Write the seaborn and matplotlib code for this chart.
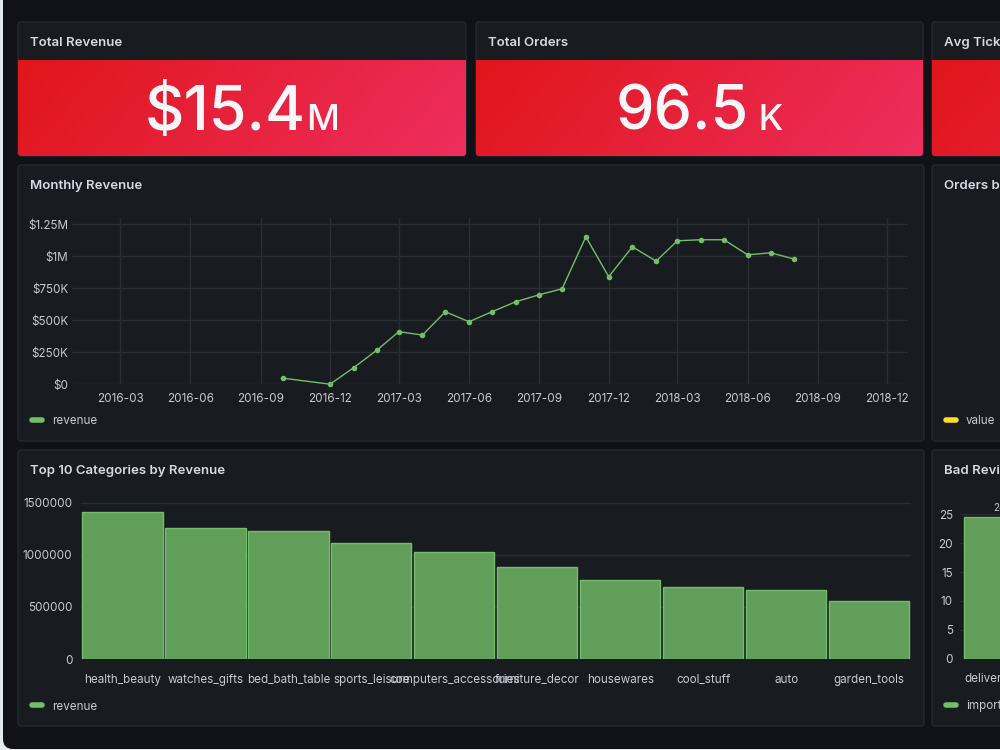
import numpy as np
import pandas as pd
import seaborn as sns
import matplotlib.pyplot as plt
import matplotlib.dates as mdates
from matplotlib.patches import FancyBboxPatch
from matplotlib.colors import LinearSegmentedColormap
from matplotlib.lines import Line2D

# --- data ---
revenue_value, revenue_unit = '$15.4', 'M'
orders_value, orders_unit = '96.5', ' K'

months = ['2016-10-01', '2016-12-01', '2017-01-01', '2017-02-01', '2017-03-01',
          '2017-04-01', '2017-05-01', '2017-06-01', '2017-07-01', '2017-08-01',
          '2017-09-01', '2017-10-01', '2017-11-01', '2017-12-01', '2018-01-01',
          '2018-02-01', '2018-03-01', '2018-04-01', '2018-05-01', '2018-06-01',
          '2018-07-01', '2018-08-01']
monthly_revenue = [47000, 1000, 130000, 270000, 411000, 385000, 567000, 489000,
                   567000, 645000, 700000, 747000, 1153000, 841000, 1075000,
                   963000, 1122000, 1130000, 1130000, 1012000, 1028000, 979000]
rev_ticks = [0, 250000, 500000, 750000, 1000000, 1250000]
rev_tick_labels = ['$0', '$250K', '$500K', '$750K', '$1M', '$1.25M']

categories = ['health_beauty', 'watches_gifts', 'bed_bath_table', 'sports_leisure',
              'computers_accessories', 'furniture_decor', 'housewares',
              'cool_stuff', 'auto', 'garden_tools']
category_revenue = [1406000, 1256000, 1224000, 1115000, 1029000,
                    879000, 757000, 687000, 664000, 559000]
cat_ticks = [0, 500000, 1000000, 1500000]

bad_review_reasons = ['delivery_delay']
bad_review_counts = [24.5]
bad_ticks = [0, 5, 10, 15, 20, 25]

# --- colours ---
PAGE = '#111217'
PANEL = '#181b1f'
BORDER = '#262930'
GRID = '#2a2d34'
TITLE = '#d8d9e3'
TICK = '#c8c9d2'
GREEN = '#73bf69'
BAR = '#619e5a'
YELLOW = '#fade2a'

sns.set_style('dark')
plt.rcParams['font.family'] = ['Inter', 'DejaVu Sans']

W, H = 1000, 750
fig = plt.figure(figsize=(10, 7.5), dpi=100, facecolor='#e4e9ef')
bg = fig.add_axes([0, 0, 1, 1])
bg.axis('off')
bg.add_patch(FancyBboxPatch((3, -20), 1100, 769, boxstyle='round,pad=0,rounding_size=10',
                            fc=PAGE, ec='none', zorder=0))


def panel(x0, y0, x1, y1, title):
    p = FancyBboxPatch((x0, y0), x1 - x0, y1 - y0, boxstyle='round,pad=0,rounding_size=3',
                       fc=PANEL, ec=BORDER, lw=1, zorder=1)
    bg.add_patch(p)
    bg.text(x0 + 12, y0 + 19.5, title, fontsize=9.5, fontweight='semibold', color=TITLE,
            va='center_baseline', ha='left', zorder=5)
    return p


def legend_key(x, y, label, color):
    bg.add_line(Line2D([x, x + 10], [y, y], color=color, lw=4, solid_capstyle='round', zorder=5))
    bg.text(x + 20, y, label, fontsize=8.4, color=TICK,
            va='center_baseline', ha='left', zorder=5)


red = LinearSegmentedColormap.from_list('grafana_red', ['#e0161a', '#ee2e5e'])
gx, gy = np.meshgrid(np.linspace(0, 1, 300), np.linspace(0, 1, 60))
shade = gx * 0.85 + gy * 0.15

renderer = fig.canvas.get_renderer()


def stat_panel(x0, x1, title, value=None, unit=None):
    p = panel(x0, 22, x1, 156, title)
    im = bg.imshow(shade, cmap=red, extent=(x0, x1, 156, 60), aspect='auto', zorder=2)
    im.set_clip_path(p)
    if value is None:
        return
    t1 = bg.text(0, 129.5, value, fontsize=44, fontweight=500, color='#f7f7f9',
                 va='baseline', ha='left', zorder=5)
    t2 = bg.text(0, 129.5, unit, fontsize=26, fontweight=500, color='#f7f7f9',
                 va='baseline', ha='left', zorder=5)
    w1 = t1.get_window_extent(renderer).width
    w2 = t2.get_window_extent(renderer).width
    left = (x0 + x1) / 2 - (w1 + w2) / 2
    t1.set_x(left)
    t2.set_x(left + w1)


stat_panel(18, 466, 'Total Revenue', revenue_value, revenue_unit)
stat_panel(476, 923, 'Total Orders', orders_value, orders_unit)
stat_panel(932, 1400, 'Avg Ticket')

panel(18, 165, 924, 441, 'Monthly Revenue')
panel(932, 165, 1400, 441, 'Orders by Status')
panel(18, 450, 924, 726, 'Top 10 Categories by Revenue')
panel(932, 450, 1400, 726, 'Bad Reviews by Reason')

legend_key(32, 420, 'revenue', GREEN)
legend_key(946, 420, 'value', YELLOW)
legend_key(32, 705, 'revenue', GREEN)
legend_key(946, 705, 'importance', GREEN)

bg.set_xlim(0, W)
bg.set_ylim(H, 0)


def px_axes(x0, y0, x1, y1, ypad):
    ax = fig.add_axes([x0 / W, 1 - y1 / H, (x1 - x0) / W, (y1 - y0) / H])
    ax.set_facecolor('none')
    for s in ax.spines.values():
        s.set_visible(False)
    ax.tick_params(length=0, colors=TICK, labelsize=8.4)
    ax.tick_params(axis='y', pad=ypad)
    return ax


# Monthly revenue
df_month = pd.DataFrame({'month': pd.to_datetime(months), 'revenue': monthly_revenue})
ax1 = px_axes(72, 218, 908, 384.3, 2.7)
sns.lineplot(data=df_month, x='month', y='revenue', ax=ax1, color=GREEN, lw=1,
             marker='o', markersize=4, markeredgewidth=0)
ax1.lines[0].set_clip_on(False)
ax1.set_xlim(pd.Timestamp('2015-12-29'), pd.Timestamp('2018-12-28'))
ax1.set_ylim(0, 1300000)
ax1.set_yticks(rev_ticks, rev_tick_labels)
ax1.xaxis.set_major_locator(mdates.MonthLocator(bymonth=[3, 6, 9, 12]))
ax1.xaxis.set_major_formatter(mdates.DateFormatter('%Y-%m'))
ax1.tick_params(axis='x', pad=6.5)
ax1.grid(True, color=GRID, lw=1)
ax1.set_xlabel('')
ax1.set_ylabel('')

# Top 10 categories
ax2 = px_axes(81, 502.7, 910.6, 659, 6.3)
sns.barplot(x=categories, y=category_revenue, ax=ax2, color=BAR, edgecolor=GREEN,
            linewidth=1, width=0.967, saturation=1)
ax2.set_xlim(-0.5, 9.5)
ax2.set_ylim(0, 1500000)
ax2.set_yticks(cat_ticks, [str(v) for v in cat_ticks])
ax2.tick_params(axis='x', pad=10.5)
ax2.yaxis.grid(True, color=GRID, lw=1)
ax2.xaxis.grid(False)
ax2.set_axisbelow(True)

# Bad reviews (mostly cut off at the right edge)
ax3 = px_axes(960, 505, 1400, 658.7, 5)
sns.barplot(x=bad_review_reasons, y=bad_review_counts, ax=ax3, color=BAR, edgecolor=GREEN,
            linewidth=1, width=0.92, saturation=1)
ax3.set_xlim(-0.5, 4.5)
ax3.set_ylim(0, 26.6)
ax3.set_yticks(bad_ticks, [str(v) for v in bad_ticks])
ax3.tick_params(axis='x', pad=10.5)
ax3.bar_label(ax3.containers[0], fmt='%.1f', fontsize=7, color=TICK, padding=3)
ax3.yaxis.grid(True, color=GRID, lw=1)
ax3.xaxis.grid(False)
ax3.set_axisbelow(True)

fig.savefig('out.png', dpi=100, facecolor=fig.get_facecolor())
